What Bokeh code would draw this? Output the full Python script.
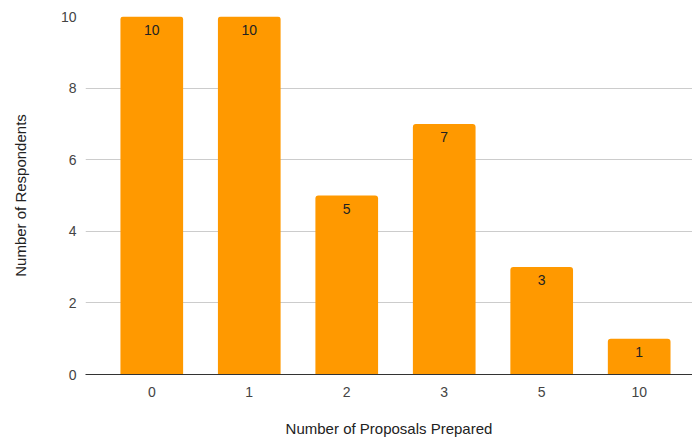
from bokeh.plotting import figure
from bokeh.models import ColumnDataSource, FixedTicker, Range1d, LinearAxis
from bokeh.core.properties import value
from bokeh.embed import file_html
from bokeh.resources import INLINE

# Survey results: how many proposals each respondent prepared
proposals = ["0", "1", "2", "3", "5", "10"]
respondents = [10, 10, 5, 7, 3, 1]
x_title = "Number of Proposals Prepared"
y_title = "Number of Respondents"

positions = list(range(len(proposals)))
src = ColumnDataSource(data=dict(
    x=positions,
    top=respondents,
    label=[str(v) for v in respondents],
))

FONT = "Liberation Sans"

p = figure(
    width=692, height=439,
    x_range=Range1d(-0.68, 5.547),
    y_range=Range1d(0, 10),
    output_backend="svg", toolbar_location=None,
    min_border_left=85, min_border_right=0,
    min_border_top=16, min_border_bottom=64,
)
p.outline_line_color = None
p.background_fill_color = "white"
p.border_fill_color = "white"

p.vbar(x="x", top="top", width=0.643, bottom=0, source=src,
       fill_color="#ff9900", line_color=None, border_radius=(3, 3, 0, 0))

p.text(x="x", y="top", text="label", source=src,
       text_align="center", text_baseline="top", y_offset=8,
       text_font=value(FONT), text_font_size="14px", text_color="#222222")

# x axis
p.xaxis.ticker = FixedTicker(ticks=positions)
p.xaxis.major_label_overrides = {i: s for i, s in enumerate(proposals)}
p.xaxis.axis_line_color = "#333333"
p.xaxis.axis_line_width = 1
p.xaxis.major_tick_line_color = None
p.xaxis.major_tick_out = 0
p.xaxis.minor_tick_line_color = None
p.xaxis.major_label_standoff = 12
p.xaxis.major_label_text_font = FONT
p.xaxis.major_label_text_font_size = "14px"
p.xaxis.major_label_text_color = "#444444"
p.xgrid.grid_line_color = None

# y axis
p.yaxis.ticker = FixedTicker(ticks=[0, 2, 4, 6, 8, 10])
p.yaxis.axis_line_color = None
p.yaxis.major_tick_line_color = None
p.yaxis.major_tick_out = 0
p.yaxis.minor_tick_line_color = None
p.yaxis.major_label_standoff = 9
p.yaxis.major_label_text_font = FONT
p.yaxis.major_label_text_font_size = "14px"
p.yaxis.major_label_text_color = "#444444"
p.ygrid.grid_line_color = "#cccccc"


def title_axis(text, standoff):
    # an axis without ticks or labels that only carries a title
    return LinearAxis(ticker=FixedTicker(ticks=[]),
                      axis_line_color=None, major_tick_line_color=None,
                      minor_tick_line_color=None, major_tick_out=0,
                      minor_tick_out=0, major_label_standoff=0,
                      major_label_text_font_size="0px",
                      axis_label=text, axis_label_standoff=standoff,
                      axis_label_text_font=FONT,
                      axis_label_text_font_size="15px",
                      axis_label_text_font_style="normal",
                      axis_label_text_color="#222222")


p.add_layout(title_axis(x_title, 20), "below")
p.add_layout(title_axis(y_title, 29), "left")

open("out.html", "w").write(file_html(p, INLINE))
